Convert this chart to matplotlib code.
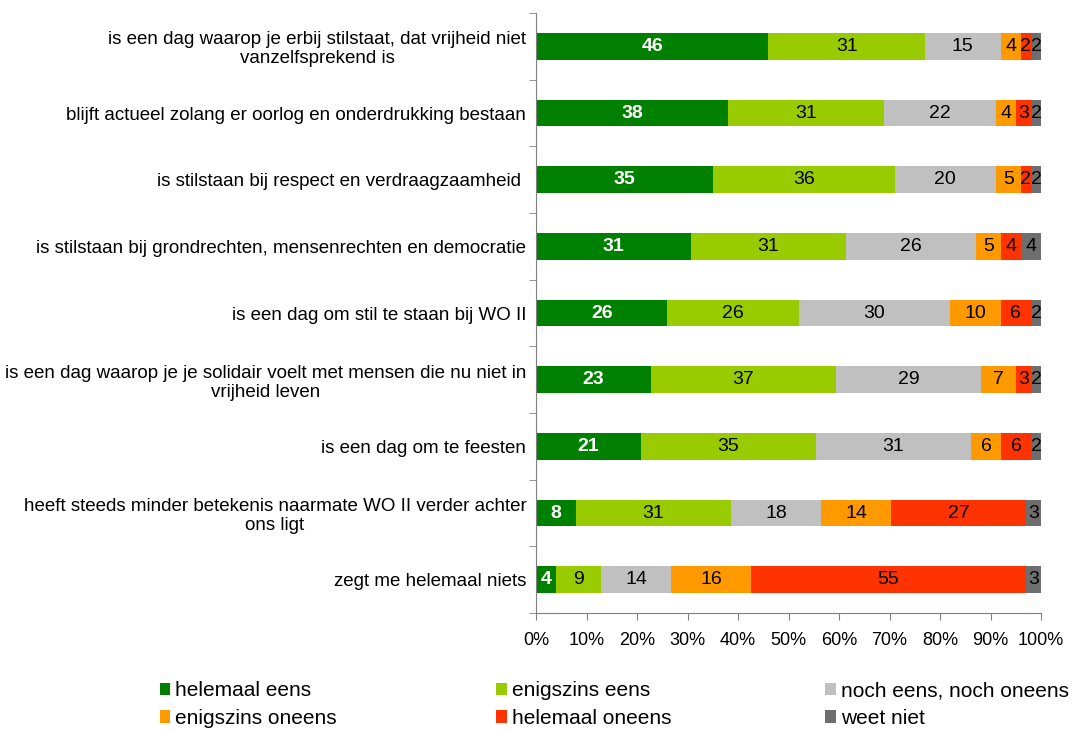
import matplotlib
matplotlib.use("Agg")
import matplotlib.pyplot as plt
import numpy as np

plt.rcParams['font.family'] = ['Liberation Sans', 'DejaVu Sans']

statements = [
    "is een dag waarop je erbij stilstaat, dat vrijheid niet\nvanzelfsprekend is",
    "blijft actueel zolang er oorlog en onderdrukking bestaan",
    "is stilstaan bij respect en verdraagzaamheid ",
    "is stilstaan bij grondrechten, mensenrechten en democratie",
    "is een dag om stil te staan bij WO II",
    "is een dag waarop je je solidair voelt met mensen die nu niet in\nvrijheid leven",
    "is een dag om te feesten",
    "heeft steeds minder betekenis naarmate WO II verder achter\nons ligt",
    "zegt me helemaal niets",
]
categories = ["helemaal eens", "enigszins eens", "noch eens, noch oneens",
              "enigszins oneens", "helemaal oneens", "weet niet"]
helemaal_eens = [46, 38, 35, 31, 26, 23, 21, 8, 4]
enigszins_eens = [31, 31, 36, 31, 26, 37, 35, 31, 9]
neutraal = [15, 22, 20, 26, 30, 29, 31, 18, 14]
enigszins_oneens = [4, 4, 5, 5, 10, 7, 6, 14, 16]
helemaal_oneens = [2, 3, 2, 4, 6, 3, 6, 27, 55]
weet_niet = [2, 2, 2, 4, 2, 2, 2, 3, 3]
colors = ["#008000", "#99cc00", "#c0c0c0", "#ff9900", "#ff3300", "#6e6e6e"]
xticklabels = ["0%", "10%", "20%", "30%", "40%", "50%", "60%", "70%", "80%", "90%", "100%"]

series = np.array([helemaal_eens, enigszins_eens, neutraal,
                   enigszins_oneens, helemaal_oneens, weet_niet], dtype=float)
shares = series / series.sum(axis=0) * 100

fig = plt.figure(figsize=(10.79, 7.31), dpi=100)
ax = fig.add_axes([0.4968, 0.1614, 0.468, 0.8206])

y = np.arange(len(statements))
left = np.zeros(len(statements))
for i, name in enumerate(categories):
    ax.barh(y, shares[i], left=left, height=0.4, color=colors[i], label=name)
    for j in range(len(statements)):
        cx = left[j] + shares[i][j] / 2
        if i == 0:
            ax.text(cx, y[j], str(int(series[i][j])), ha='center', va='center',
                    color='white', fontweight='bold', fontsize=14)
        else:
            ax.text(cx, y[j], str(int(series[i][j])), ha='center', va='center',
                    color='black', fontsize=14)
    left += shares[i]

ax.set_xlim(0, 100)
ax.set_ylim(len(statements) - 0.5, -0.5)
ax.set_xticks(np.arange(0, 101, 10))
ax.set_xticklabels(xticklabels, fontsize=13)
ax.set_yticks(y)
ax.set_yticklabels(statements, fontsize=13.5, multialignment='center',
                   linespacing=1.15)
ax.set_yticks(np.arange(-0.5, len(statements), 1), minor=True)
ax.tick_params(axis='y', which='major', length=0, pad=7)
ax.tick_params(axis='y', which='minor', length=5, direction='out', color='#808080')
ax.tick_params(axis='x', length=5, direction='out', color='#808080', pad=9)
for s in ['top', 'right']:
    ax.spines[s].set_visible(False)
for s in ['left', 'bottom']:
    ax.spines[s].set_color('#808080')

handles, labels = ax.get_legend_handles_labels()
col_x = [0.148, 0.460, 0.765]
for k in range(3):
    leg = fig.legend([handles[k], handles[k + 3]], [labels[k], labels[k + 3]],
                     loc='upper left', bbox_to_anchor=(col_x[k], 0.068),
                     frameon=False, fontsize=15, handlelength=0.5,
                     handleheight=0.55, handletextpad=0.25, labelspacing=0.42,
                     borderpad=0, borderaxespad=0)

fig.savefig("out.png", dpi=100)
